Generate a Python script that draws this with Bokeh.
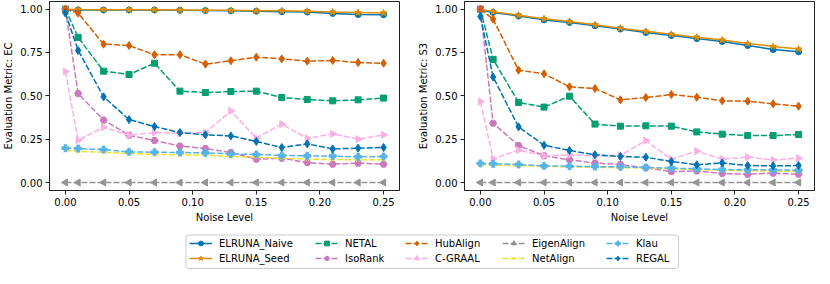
import math
from bokeh.plotting import figure
from bokeh.models import (Range1d, Legend, LegendItem, FixedTicker, PrintfTickFormatter,
                          ColumnDataSource, BoxAnnotation)
from bokeh.layouts import column, row
from bokeh.embed import file_html
from bokeh.resources import INLINE

noise = [0.0, 0.01, 0.03, 0.05, 0.07, 0.09, 0.11, 0.13, 0.15, 0.17, 0.19, 0.21, 0.23, 0.25]
methods = ["ELRUNA_Naive", "ELRUNA_Seed", "NETAL", "IsoRank", "HubAlign",
           "C-GRAAL", "EigenAlign", "NetAlign", "Klau", "REGAL"]

# Evaluation metric: EC
ec_elruna_naive = [0.995, 0.995, 0.995, 0.995, 0.995, 0.993, 0.992, 0.990, 0.988, 0.985, 0.983, 0.975, 0.969, 0.968]
ec_elruna_seed = [1.000, 0.998, 0.997, 0.997, 0.997, 0.995, 0.993, 0.993, 0.990, 0.990, 0.988, 0.983, 0.980, 0.978]
ec_netal = [1.000, 0.837, 0.642, 0.623, 0.688, 0.527, 0.519, 0.525, 0.527, 0.490, 0.479, 0.471, 0.477, 0.487]
ec_isorank = [1.000, 0.513, 0.360, 0.273, 0.242, 0.210, 0.196, 0.173, 0.135, 0.140, 0.115, 0.106, 0.112, 0.106]
ec_hubalign = [1.000, 0.977, 0.798, 0.790, 0.737, 0.737, 0.683, 0.702, 0.723, 0.713, 0.700, 0.704, 0.692, 0.688]
ec_cgraal = [0.640, 0.244, 0.319, 0.273, 0.288, 0.285, 0.288, 0.413, 0.256, 0.337, 0.254, 0.281, 0.250, 0.275]
ec_eigenalign = [0.0, 0.0, 0.0, 0.0, 0.0, 0.0, 0.0, 0.0, 0.0, 0.0, 0.0, 0.0, 0.0, 0.0]
ec_netalign = [0.185, 0.179, 0.175, 0.167, 0.162, 0.160, 0.158, 0.150, 0.146, 0.140, 0.135, 0.133, 0.131, 0.131]
ec_klau = [0.198, 0.196, 0.190, 0.177, 0.175, 0.173, 0.171, 0.165, 0.162, 0.156, 0.154, 0.152, 0.148, 0.150]
ec_regal = [0.977, 0.762, 0.494, 0.363, 0.323, 0.288, 0.275, 0.269, 0.237, 0.202, 0.223, 0.194, 0.198, 0.202]

# Evaluation metric: S3
s3_elruna_naive = [0.995, 0.981, 0.960, 0.938, 0.923, 0.904, 0.885, 0.865, 0.848, 0.830, 0.813, 0.790, 0.767, 0.754]
s3_elruna_seed = [1.000, 0.985, 0.965, 0.945, 0.928, 0.910, 0.890, 0.872, 0.855, 0.838, 0.822, 0.802, 0.785, 0.770]
s3_netal = [1.000, 0.710, 0.462, 0.435, 0.498, 0.337, 0.325, 0.327, 0.325, 0.292, 0.279, 0.271, 0.271, 0.277]
s3_isorank = [1.000, 0.342, 0.213, 0.154, 0.131, 0.112, 0.104, 0.085, 0.063, 0.067, 0.052, 0.048, 0.054, 0.048]
s3_hubalign = [1.000, 0.942, 0.648, 0.627, 0.552, 0.542, 0.477, 0.490, 0.508, 0.492, 0.471, 0.469, 0.454, 0.440]
s3_cgraal = [0.467, 0.138, 0.187, 0.154, 0.160, 0.154, 0.158, 0.242, 0.135, 0.181, 0.135, 0.146, 0.131, 0.140]
s3_eigenalign = [0.0, 0.0, 0.0, 0.0, 0.0, 0.0, 0.0, 0.0, 0.0, 0.0, 0.0, 0.0, 0.0, 0.0]
s3_netalign = [0.102, 0.100, 0.098, 0.094, 0.090, 0.088, 0.086, 0.083, 0.079, 0.075, 0.072, 0.068, 0.066, 0.065]
s3_klau = [0.110, 0.108, 0.104, 0.096, 0.094, 0.092, 0.090, 0.087, 0.083, 0.079, 0.075, 0.073, 0.073, 0.071]
s3_regal = [0.958, 0.608, 0.321, 0.215, 0.185, 0.160, 0.150, 0.146, 0.121, 0.102, 0.113, 0.098, 0.096, 0.098]

x_ticks = [0.0, 0.05, 0.10, 0.15, 0.20, 0.25]
y_ticks = [0.0, 0.25, 0.50, 0.75, 1.00]

ec_values = [ec_elruna_naive, ec_elruna_seed, ec_netal, ec_isorank, ec_hubalign,
             ec_cgraal, ec_eigenalign, ec_netalign, ec_klau, ec_regal]
s3_values = [s3_elruna_naive, s3_elruna_seed, s3_netal, s3_isorank, s3_hubalign,
             s3_cgraal, s3_eigenalign, s3_netalign, s3_klau, s3_regal]

FONT = "DejaVu Sans"
DASH = "6 2"
styles = {
    "ELRUNA_Naive": dict(color="#0173b2", marker="circle", dash="solid", angle=0.0, size=6),
    "ELRUNA_Seed": dict(color="#de8f05", marker="star", dash="solid", angle=0.0, size=7),
    "NETAL": dict(color="#029e73", marker="square", dash=DASH, angle=0.0, size=6),
    "IsoRank": dict(color="#cc78bc", marker="hex", dash=DASH, angle=0.0, size=7),
    "HubAlign": dict(color="#d55e00", marker="diamond", dash=DASH, angle=0.0, size=8),
    "C-GRAAL": dict(color="#fbafe4", marker="triangle", dash=DASH, angle=-math.pi / 2, size=7),
    "EigenAlign": dict(color="#949494", marker="triangle", dash=DASH, angle=math.pi / 2, size=7),
    "NetAlign": dict(color="#ece133", marker="x", dash=DASH, angle=0.0, size=6),
    "Klau": dict(color="#56b4e9", marker="plus", dash=DASH, angle=0.0, size=7),
    "REGAL": dict(color="#0173b2", marker="diamond", dash=DASH, angle=0.0, size=8),
}


def draw(p, name, xs, ys):
    st = styles[name]
    src = ColumnDataSource(dict(x=xs, y=ys))
    lr = p.line("x", "y", source=src, line_color=st["color"], line_width=1.5, line_dash=st["dash"])
    sr = p.scatter("x", "y", source=src, marker=st["marker"], size=st["size"], angle=st["angle"],
                   fill_color=st["color"], line_color=st["color"], line_width=1)
    return lr, sr


def panel(values, ylabel, left, right):
    p = figure(frame_width=350, frame_height=189, min_border_left=left, min_border_right=right,
               min_border_top=1, min_border_bottom=34,
               x_range=Range1d(-0.0125, 0.2625), y_range=Range1d(-0.046, 1.044),
               toolbar_location=None, output_backend="svg", background_fill_color="white")
    p.xgrid.visible = False
    p.ygrid.visible = False
    p.outline_line_color = "#222222"
    p.outline_line_width = 1
    for ax in (p.xaxis[0], p.yaxis[0]):
        ax.major_tick_in = 0
        ax.major_tick_out = 4
        ax.minor_tick_in = 0
        ax.minor_tick_out = 0
        ax.axis_line_color = "#222222"
        ax.major_tick_line_color = "#222222"
        ax.major_label_text_font = FONT
        ax.major_label_text_font_size = "10px"
        ax.major_label_text_color = "black"
        ax.axis_label_text_font = FONT
        ax.axis_label_text_font_size = "10px"
        ax.axis_label_text_font_style = "normal"
        ax.axis_label_text_color = "black"
        ax.major_label_standoff = 3
        ax.axis_label_standoff = 3
    p.xaxis[0].ticker = FixedTicker(ticks=x_ticks)
    p.yaxis[0].ticker = FixedTicker(ticks=y_ticks)
    p.xaxis[0].formatter = PrintfTickFormatter(format="%.2f")
    p.yaxis[0].formatter = PrintfTickFormatter(format="%.2f")
    p.xaxis[0].axis_label = "Noise Level"
    p.yaxis[0].axis_label = ylabel
    for name, ys in zip(methods, values):
        draw(p, name, noise, ys)
    return p


p1 = panel(ec_values, "Evaluation Metric: EC", 45, 7)
p2 = panel(s3_values, "Evaluation Metric: S3", 58, 4)

# Legend strip: the same series are drawn far outside this strip's visible ranges,
# so only the legend entries show. Ranges are offset so 1 data unit = 1 pixel.
OFF = 1000
pl = figure(width=814, height=44, x_range=Range1d(OFF, OFF + 814), y_range=Range1d(OFF, OFF + 44),
            x_axis_location=None, y_axis_location=None, toolbar_location=None,
            output_backend="svg", min_border=0)
pl.xgrid.visible = False
pl.ygrid.visible = False
pl.outline_line_color = None

box = BoxAnnotation(left=OFF + 185.5, right=OFF + 678, bottom=OFF + 1, top=OFF + 34.5,
                    fill_color="white", fill_alpha=0.8, line_color="#cccccc", line_width=1,
                    line_alpha=1, level="underlay", border_radius=3)
pl.add_layout(box)

legend_items = []
for name, ys in zip(methods, ec_values):
    lr, sr = draw(pl, name, noise, ys)
    legend_items.append(LegendItem(label=name, renderers=[lr, sr]))

col_x = [189, 315, 405, 502, 606]
for c, cx in enumerate(col_x):
    lg = Legend(items=legend_items[2 * c:2 * c + 2], orientation="vertical", location=(cx, 5),
                label_text_font=FONT, label_text_font_size="10px", label_text_color="black",
                glyph_width=23, glyph_height=12, label_height=12, label_standoff=7,
                spacing=3, padding=0, margin=0,
                border_line_color=None, background_fill_alpha=0)
    pl.add_layout(lg, "center")

layout = column(row(p1, p2), pl)
open("out.html", "w").write(file_html(layout, INLINE))
